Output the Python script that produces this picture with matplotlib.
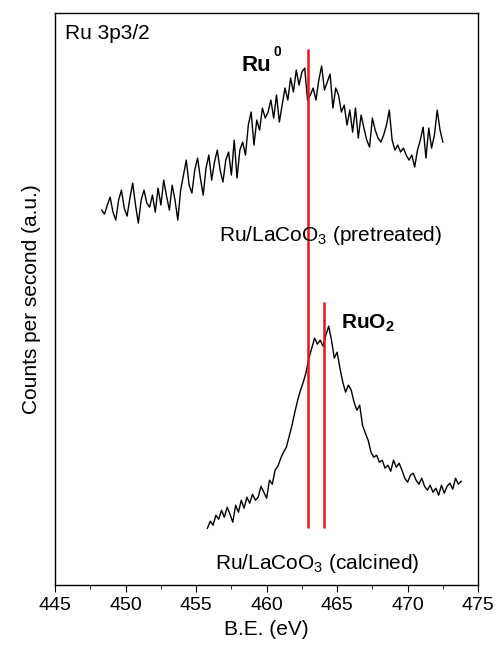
import matplotlib
matplotlib.use('Agg')
import matplotlib.pyplot as plt
import numpy as np

plt.rcParams['font.family'] = ['Liberation Sans', 'DejaVu Sans']
plt.rcParams['mathtext.fontset'] = 'custom'
plt.rcParams['mathtext.rm'] = 'Liberation Sans'
plt.rcParams['mathtext.bf'] = 'Liberation Sans:bold'

# pretreated spectrum, 448.3 - 472.5 eV, 0.2 eV step
pre_start, pre_step = 448.3, 0.2
pre_counts = [
    375, 371, 380, 388, 373, 365, 385, 395, 377, 369,
    387, 402, 380, 362, 385, 395, 382, 378, 390, 373,
    397, 380, 405, 389, 375, 400, 385, 365, 395, 410,
    425, 400, 392, 415, 427, 407, 390, 417, 430, 405,
    423, 435, 415, 403, 425, 433, 410, 445, 407, 435,
    443, 430, 460, 473, 440, 465, 455, 477, 467, 473,
    485, 467, 490, 463, 480, 497, 485, 507, 493, 515,
    500, 513, 517, 485, 490, 497, 485, 505, 519, 495,
    503, 511, 477, 497, 490, 473, 480, 460, 475, 453,
    477, 447, 470, 457, 445, 438, 467, 455, 447, 443,
    450, 460, 475, 445, 435, 440, 433, 437, 430, 425,
    430, 418, 435, 445, 458, 427, 457, 437, 450, 475,
    455, 443,
]

# calcined spectrum, 455.8 - 473.8 eV, 0.2 eV step
cal_start, cal_step = 455.8, 0.2
cal_counts = [
    57, 64, 60, 70, 66, 75, 68, 78, 71, 63,
    80, 73, 85, 77, 88, 82, 91, 85, 88, 99,
    93, 87, 105, 101, 115, 119, 127, 133, 138, 149,
    160, 173, 185, 195, 203, 213, 227, 237, 247, 241,
    245, 239, 250, 259, 245, 227, 233, 217, 203, 193,
    200, 195, 183, 175, 180, 160, 152, 145, 133, 128,
    130, 123, 125, 117, 120, 114, 125, 118, 122, 115,
    107, 103, 110, 112, 105, 101, 107, 99, 95, 100,
    93, 97, 90, 100, 92, 99, 102, 96, 107, 101, 104,
]

# reference peak positions (eV) and vertical extent of the markers
peak_energies = [462.9, 464.1]
peak_tops = [536, 283]
peak_bottom = 57

pre_e = pre_start + pre_step * np.arange(len(pre_counts))
cal_e = cal_start + cal_step * np.arange(len(cal_counts))

fig = plt.figure(figsize=(4.97, 6.51), dpi=100)
ax = fig.add_axes([0.111, 0.101, 0.851, 0.879])

ax.plot(pre_e, pre_counts, color='black', lw=1.0)
ax.plot(cal_e, cal_counts, color='black', lw=1.0)
ax.vlines(peak_energies, peak_bottom, peak_tops, color='#ee1111', lw=1.8)

ax.set_xlim(445, 475)
ax.set_ylim(0, 572)
ax.set_xticks(np.arange(445, 476, 5))
ax.set_xticks(np.arange(447.5, 475, 5), minor=True)
ax.set_yticks([])
ax.tick_params(axis='x', which='major', direction='out', length=5, labelsize=14)
ax.tick_params(axis='x', which='minor', direction='out', length=3)
for s in ax.spines.values():
    s.set_linewidth(1.0)

ax.set_xlabel('B.E. (eV)', fontsize=15, labelpad=4)
ax.set_ylabel('Counts per second (a.u.)', fontsize=15, labelpad=10)

ax.text(0.024, 0.965, 'Ru 3p3/2', transform=ax.transAxes, fontsize=15,
        ha='left', va='center')
ax.text(459.3, 520, 'Ru', fontsize=16, fontweight='bold', ha='center', va='center')
ax.text(460.75, 533, '0', fontsize=10, fontweight='bold', ha='center', va='center')
ax.text(467.2, 262, r'$\mathbf{RuO_2}$', fontsize=15, ha='center', va='center')
ax.text(464.5, 350, r'Ru/LaCoO$_3$ (pretreated)', fontsize=15,
        ha='center', va='center')
ax.text(463.6, 22, r'Ru/LaCoO$_3$ (calcined)', fontsize=15,
        ha='center', va='center')

fig.savefig('out.png', dpi=100)
